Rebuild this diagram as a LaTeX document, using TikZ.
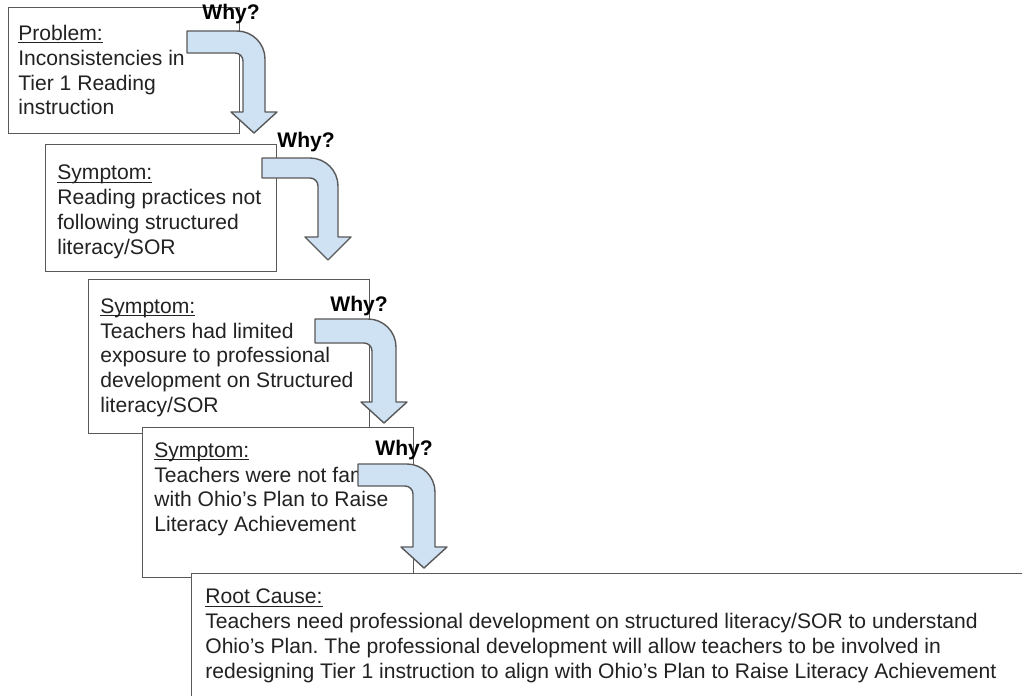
\documentclass[tikz,border=0pt]{standalone}
\usepackage{fontspec}
\setmainfont{Liberation Sans}
\usetikzlibrary{positioning}
\definecolor{arrowblue}{HTML}{CFE2F3}
\definecolor{edgegray}{HTML}{595959}
\definecolor{inkgray}{HTML}{222222}
\frenchspacing
\newcommand\ulabel[1]{\setbox0\hbox{#1}\rlap{\rule[-1.7pt]{\wd0}{0.55pt}}\box0}
\tikzset{
  box/.style={draw=edgegray, line width=0.8pt, fill=white, inner sep=0pt, anchor=north west},
  boxtext/.style={align=left, inner sep=0pt, text=inkgray, font=\fontsize{12pt}{14.2pt}\selectfont},
  why/.style={anchor=base west, inner sep=0pt, font=\fontsize{12pt}{14pt}\selectfont\bfseries},
  whyarrow/.style={draw=edgegray, line width=0.8pt, fill=arrowblue, line join=round}
}
% bent arrow: bar left, bar top, thickness, shaft left, head top, head overhang, tip
\def\WhyArrow#1#2#3#4#5#6#7{\draw[whyarrow] (#1,#2) -- (#4+#3-28,#2)
  .. controls (#4+#3-12.6,#2) and (#4+#3,#2+12.6) .. (#4+#3,#2+28) -- (#4+#3,#5)
  -- (#4+#3+#6,#5) -- (#4+#3/2,#7) -- (#4-#6,#5) -- (#4,#5) -- (#4,#2+#3+8)
  .. controls (#4,#2+#3+3.6) and (#4-3.6,#2+#3) .. (#4-8,#2+#3) -- (#1,#2+#3) -- cycle;}

\begin{document}
\begin{tikzpicture}[x=0.02cm,y=-0.02cm]
\useasboundingbox (0,0) rectangle (1022,696);
\fill[white] (0,0) rectangle (1022,696);
% problem
\node[box, minimum width=4.62cm, minimum height=2.52cm] (prob) at (8,7) {};
\node[boxtext, below right=0.35cm and 0.2cm of prob.north west] (probtxt)
  {\ulabel{Problem:}\\Inconsistencies in\\Tier 1 Reading\\instruction};
\WhyArrow{187}{31}{22}{243}{112}{12}{133}
\node[why] (why1) at (202,20) {Why?};
% symptoms
\node[box, minimum width=4.62cm, minimum height=2.54cm] (symA) at (45,144) {};
\node[boxtext, below right=0.41cm and 0.24cm of symA.north west] (symAtxt)
  {\ulabel{Symptom:}\\Reading practices not\\following structured\\literacy/SOR};
\WhyArrow{262}{158}{20}{318}{237}{13}{260}
\node[why] (why2) at (277,148) {Why?};
\node[box, minimum width=5.62cm, minimum height=3.08cm] (symB) at (88,279) {};
\node[boxtext, below right=0.38cm and 0.24cm of symB.north west] (symBtxt)
  {\ulabel{Symptom:}\\Teachers had limited\\exposure to professional\\development on Structured\\literacy/SOR};
\WhyArrow{315}{319}{24}{372}{402}{11}{423}
\node[why] (why3) at (330,311) {Why?};
\node[box, minimum width=5.42cm, minimum height=3.0cm] (symC) at (142,427) {};
\node[boxtext, below right=0.30cm and 0.24cm of symC.north west] (symCtxt)
  {\ulabel{Symptom:}\\Teachers were not familiar\\with Ohio’s Plan to Raise\\Literacy Achievement};
\WhyArrow{358}{464}{22}{413}{547}{12}{568}
\node[why] (why4) at (375,455) {Why?};
% root cause
\node[box, minimum width=16.98cm, minimum height=2.94cm] (root) at (191,573) {};
\node[boxtext, below right=0.31cm and 0.28cm of root.north west] (roottxt)
  {\ulabel{Root Cause:}\\Teachers need professional development on structured literacy/SOR to understand\\Ohio’s Plan. The professional development will allow teachers to be involved in\\redesigning Tier 1 instruction to align with Ohio’s Plan to Raise Literacy Achievement};
\end{tikzpicture}
\end{document}
